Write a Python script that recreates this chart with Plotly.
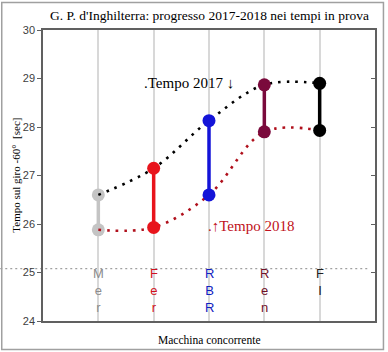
import plotly.graph_objects as go

categories = ["Mer", "Fer", "RBR", "Ren", "FI"]
cat_letters = [["M", "e", "r"], ["F", "e", "r"], ["R", "B", "R"], ["R", "e", "n"], ["F", "I"]]
t2017 = [26.6, 27.15, 28.13, 28.87, 28.9]
t2018 = [25.88, 25.93, 26.6, 27.9, 27.93]
colors = ["#c4c4c4", "#e8141c", "#1414d8", "#7a0a3c", "#000000"]
label_colors = ["#8c8c8c", "#d01020", "#1020c0", "#701028", "#202020"]
y_ticks = [24, 25, 26, 27, 28, 29, 30]
xpos = [1, 2, 3, 4, 5]

W, H = 388, 352
L, R, T, B = 43, 11, 30, 31
pw, ph = W - L - R, H - T - B

def px(x):
    return (x - L) / pw

def py(y):
    return (H - B - y) / ph

fig = go.Figure()

def seg(i):
    fig.add_trace(go.Scatter(
        x=[xpos[i], xpos[i]], y=[t2018[i], t2017[i]], mode="lines+markers",
        line=dict(color=colors[i], width=3.5),
        marker=dict(color=colors[i], size=13), showlegend=False, hoverinfo="skip"))

seg(0)
fig.add_trace(go.Scatter(x=xpos, y=t2017, mode="lines", line=dict(color="#000000", width=2.6, dash="2.6px,6px", shape="spline", smoothing=1.0), showlegend=False))
fig.add_trace(go.Scatter(x=xpos, y=t2018, mode="lines", line=dict(color="#b0101c", width=2.6, dash="2.6px,6px", shape="spline", smoothing=1.0), showlegend=False))
for i in range(1, 5):
    seg(i)

fig.add_trace(go.Scatter(x=[0], y=[24], yaxis="y2", mode="markers", marker=dict(opacity=0), showlegend=False, hoverinfo="skip"))

annotations = []
for i, letters in enumerate(cat_letters):
    annotations.append(dict(x=xpos[i], y=25.18, xref="x", yref="y", yanchor="top", showarrow=False,
                            text="<br>".join(letters), font=dict(family="Arial, Liberation Sans", size=13, color=label_colors[i])))

annotations.append(dict(x=px(143), y=28.9, xref="paper", yref="y", xanchor="left", yanchor="middle", showarrow=False,
                        text=".Tempo 2017 \u2193", font=dict(family="Liberation Serif, Times New Roman", size=15, color="#000000")))
annotations.append(dict(x=px(207), y=25.95, xref="paper", yref="y", xanchor="left", yanchor="middle", showarrow=False,
                        text=".\u2191Tempo 2018", font=dict(family="Liberation Serif, Times New Roman", size=15, color="#c01020")))
annotations.append(dict(x=0.5, y=py(16), xref="paper", yref="paper", xanchor="center", yanchor="middle", showarrow=False,
                        text="G. P. d'Inghilterra: progresso 2017-2018 nei tempi in prova",
                        font=dict(family="Liberation Serif, Times New Roman", size=13.5, color="#000000")))
annotations.append(dict(x=px(15), y=0.5, xref="paper", yref="paper", xanchor="center", yanchor="middle", showarrow=False,
                        textangle=-90, text="Tempo sul giro -60\u00b0  [sec]",
                        font=dict(family="Liberation Serif, Times New Roman", size=11, color="#000000")))
annotations.append(dict(x=0.5, y=py(340), xref="paper", yref="paper", xanchor="center", yanchor="middle", showarrow=False,
                        text="Macchina concorrente",
                        font=dict(family="Liberation Serif, Times New Roman", size=11.5, color="#000000")))

shapes = [
    dict(type="line", xref="paper", yref="y", x0=px(0), x1=px(372), y0=25.08, y1=25.08,
         line=dict(color="#a0a0a0", width=1.2, dash="2px,3px"), layer="below"),
    dict(type="rect", xref="paper", yref="paper", x0=px(1.5), x1=px(385.5), y0=py(349.5), y1=py(2.5),
         line=dict(color="#a0a0a0", width=1.5), layer="below"),
]

fig.update_layout(
    width=W, height=H, margin=dict(l=L, r=R, t=T, b=B),
    paper_bgcolor="white", plot_bgcolor="white",
    showlegend=False, annotations=annotations, shapes=shapes,
    xaxis=dict(range=[0, 6], tickvals=xpos, showticklabels=False, ticks="",
               showgrid=True, gridcolor="#d8d8d8", gridwidth=1.5, zeroline=False,
               showline=True, linecolor="#606060", linewidth=1.5, mirror=True, fixedrange=True),
    yaxis=dict(range=[24, 30], tickvals=y_ticks, ticks="outside", ticklen=4, tickcolor="#606060",
               tickfont=dict(family="Arial, Liberation Sans", size=11, color="#404040"),
               showgrid=False, zeroline=False, showline=True, linecolor="#606060", linewidth=1.5, mirror=True),
    yaxis2=dict(range=[24, 30], tickvals=y_ticks, overlaying="y", side="right", ticks="inside", ticklen=4,
                tickcolor="#606060", showticklabels=False, showgrid=False, zeroline=False, showline=False),
)

fig.write_html("out.html")
